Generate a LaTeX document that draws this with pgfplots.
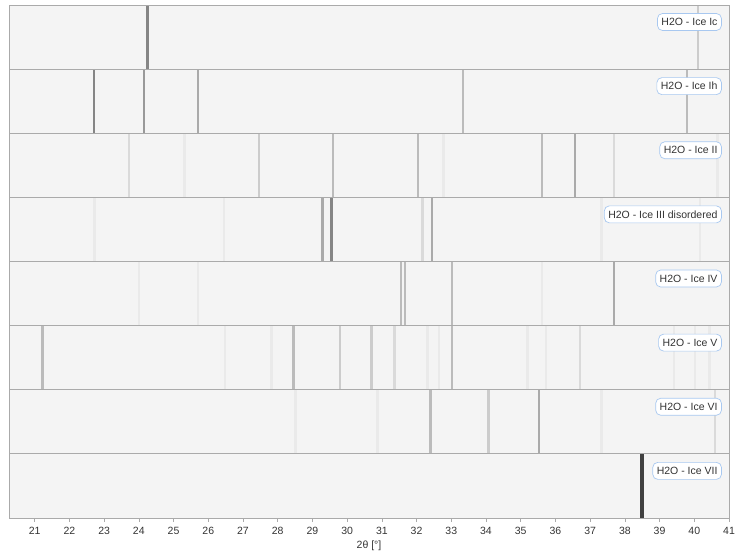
\documentclass[border=0pt]{standalone}
\usepackage{fontspec}
\setmainfont{Liberation Sans}
\usepackage{pgfplots}
\pgfplotsset{compat=1.18}
\usepgfplotslibrary{groupplots}
\definecolor{bg}{HTML}{F4F4F4}
\definecolor{frame}{HTML}{AAAAAA}
\definecolor{lblborder}{HTML}{A8C8F0}
\definecolor{txt}{HTML}{333333}
\definecolor{g1}{HTML}{404040}
\definecolor{g2}{HTML}{858585}
\definecolor{g3}{HTML}{999999}
\definecolor{g4}{HTML}{AAAAAA}
\definecolor{g5}{HTML}{BBBBBB}
\definecolor{g6}{HTML}{CCCCCC}
\definecolor{g7}{HTML}{DADADA}
\definecolor{g8}{HTML}{EAEAEA}
\pgfplotsset{
  pk/.style={ycomb, mark=none, line width=2.4pt, draw=#1, forget plot},
}
\tikzset{
  lbl/.style={anchor=east, draw=lblborder, fill=white, rounded corners=5pt,
    text=txt, font=\fontsize{10.5}{12}\selectfont, inner xsep=4pt, inner ysep=2.5pt,
    minimum height=17pt, line width=0.7pt},
}
\begin{document}
\begin{tikzpicture}
\begin{groupplot}[
  group style={group size=1 by 8, vertical sep=0pt, group name=g},
  width=720pt, height=64.125pt, scale only axis,
  xmin=20.26, xmax=41, ymin=0, ymax=1,
  xtick=\empty, ytick=\empty,
  axis background/.style={fill=bg},
  axis line style={draw=frame, line width=0.8pt},
  clip=false, axis on top,
  /pgf/number format/assume math mode=true,
  ticklabel style={font=\fontsize{10.5}{12}\selectfont, text=txt},
  label style={font=\fontsize{10.5}{12}\selectfont, text=txt},
]
% Ice Ic
\nextgroupplot
\addplot[pk=g2] coordinates {(24.25,1)};
\addplot[pk=g6] coordinates {(40.10,1)};
\node[lbl] at (rel axis cs:0.99,0.735) {H2O - Ice Ic};
% Ice Ih
\nextgroupplot
\addplot[pk=g2] coordinates {(22.70,1)};
\addplot[pk=g3] coordinates {(24.15,1)};
\addplot[pk=g4] coordinates {(25.71,1)};
\addplot[pk=g5] coordinates {(33.33,1) (39.79,1)};
\node[lbl] at (rel axis cs:0.99,0.735) {H2O - Ice Ih};
% Ice II
\nextgroupplot
\addplot[pk=g8] coordinates {(25.31,1) (32.78,1) (40.67,1)};
\addplot[pk=g7] coordinates {(23.72,1) (37.68,1)};
\addplot[pk=g6] coordinates {(27.46,1)};
\addplot[pk=g5] coordinates {(29.60,1) (32.04,1) (35.62,1)};
\addplot[pk=g4] coordinates {(36.57,1)};
\node[lbl] at (rel axis cs:0.99,0.735) {H2O - Ice II};
% Ice III disordered
\nextgroupplot
\addplot[pk=g8] coordinates {(22.72,1) (26.46,1) (37.33,1) (40.16,1)};
\addplot[pk=g7] coordinates {(32.17,1)};
\addplot[pk=g4] coordinates {(29.29,1) (32.45,1)};
\addplot[pk=g2] coordinates {(29.55,1)};
\node[lbl] at (rel axis cs:0.99,0.735) {H2O - Ice III disordered};
% Ice IV
\nextgroupplot
\addplot[pk=g8] coordinates {(24.01,1) (25.71,1) (35.62,1)};
\addplot[pk=g5] coordinates {(31.56,1) (31.67,1) (33.02,1)};
\addplot[pk=g4] coordinates {(37.68,1)};
\node[lbl] at (rel axis cs:0.99,0.735) {H2O - Ice IV};
% Ice V
\nextgroupplot
\addplot[pk=g8] coordinates {(26.49,1) (27.82,1) (32.31,1) (32.65,1) (35.20,1) (35.72,1) (39.41,1) (40.02,1) (40.44,1)};
\addplot[pk=g7] coordinates {(31.36,1) (36.70,1)};
\addplot[pk=g6] coordinates {(29.80,1) (30.70,1)};
\addplot[pk=g5] coordinates {(21.23,1) (28.45,1) (33.02,1)};
\node[lbl] at (rel axis cs:0.99,0.735) {H2O - Ice V};
% Ice VI
\nextgroupplot
\addplot[pk=g8] coordinates {(28.51,1) (30.87,1) (37.33,1)};
\addplot[pk=g7] coordinates {(40.60,1)};
\addplot[pk=g6] coordinates {(34.07,1)};
\addplot[pk=g5] coordinates {(32.40,1)};
\addplot[pk=g4] coordinates {(35.53,1)};
\node[lbl] at (rel axis cs:0.99,0.735) {H2O - Ice VI};
% Ice VII
\nextgroupplot[
  xtick={21,22,...,41}, xtick pos=bottom, tick align=outside,
  major tick length=4pt, xtick style={draw=frame, line width=0.6pt},
  xticklabel style={yshift=-1.5pt},
  xlabel={2θ [°]}, xlabel style={yshift=0pt},
]
\addplot[pk=g1, line width=3.5pt] coordinates {(38.50,1)};
\node[lbl] at (rel axis cs:0.99,0.735) {H2O - Ice VII};
\end{groupplot}
\path ([shift={(-9pt,5pt)}]g c1r1.north west) rectangle ([shift={(11pt,-37pt)}]g c1r8.south east);
\end{tikzpicture}
\end{document}
